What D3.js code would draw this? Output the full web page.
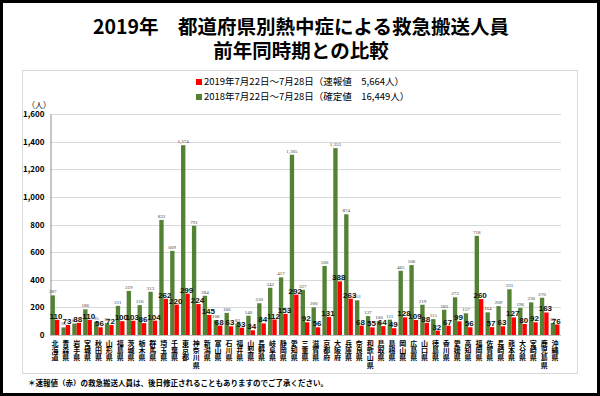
<!DOCTYPE html>
<html>
<head>
<meta charset="utf-8">
<script src="https://cdn.jsdelivr.net/npm/d3@7"></script>
<style>
  body { margin: 0; background: #fff; }
  svg { display: block; font-family: "Noto Sans CJK JP", sans-serif; }
</style>
</head>
<body>
<script>
/* Data
***********************************************************************/
var prefs = ["北海道","青森県","岩手県","宮城県","秋田県","山形県","福島県","茨城県","栃木県","群馬県",
	"埼玉県","千葉県","東京都","神奈川県","新潟県","富山県","石川県","福井県","山梨県","長野県",
	"岐阜県","静岡県","愛知県","三重県","滋賀県","京都府","大阪府","兵庫県","奈良県","和歌山県",
	"鳥取県","島根県","岡山県","広島県","山口県","徳島県","香川県","愛媛県","高知県","福岡県",
	"佐賀県","長崎県","熊本県","大分県","宮崎県","鹿児島県","沖縄県"];

// 2019 (速報値, red)
var v2019 = [110,73,88,110,56,72,100,103,86,104,
	262,220,299,224,145,68,63,53,34,84,
	112,153,292,92,56,131,388,263,68,55,
	64,49,128,109,88,32,67,99,56,260,
	57,63,127,80,92,163,76];

// 2018 (確定値, green)
var v2018 = [287,55,83,186,95,85,211,319,216,313,
	833,609,1374,791,284,108,160,83,140,230,
	342,417,1305,327,200,500,1353,874,251,137,
	100,111,465,506,219,115,183,273,157,718,
	164,209,331,196,236,270,88];

var yTicks = [0,200,400,600,800,1000,1200,1400,1600];

var titleLines = ["2019年　都道府県別熱中症による救急搬送人員", "前年同時期との比較"];
var legendItems = [
	{label: "2019年7月22日～7月28日（速報値　5,664人）", color: "#ff0000"},
	{label: "2018年7月22日～7月28日（確定値　16,449人）", color: "#548235"}
];
var footnote = "＊速報値（赤）の救急搬送人員は、後日修正されることもありますのでご了承ください。";

/* Setup SVG
***********************************************************************/
var svgW = 600;
var svgH = 396;
var green = "#548235";
var red = "#ff0000";

var svg = d3.select("body").append("svg")
	.attr("width", svgW)
	.attr("height", svgH);

// outer black frame
svg.append("rect")
	.attr("x", 1.5).attr("y", 1.5)
	.attr("width", svgW - 3).attr("height", svgH - 3)
	.attr("fill", "none")
	.attr("stroke", "#000")
	.attr("stroke-width", 3);

// title
svg.append("g").selectAll("text")
	.data(titleLines)
	.join("text")
	.attr("x", 301)
	.attr("y", function(d, i) { return 34 + i * 24; })
	.attr("text-anchor", "middle")
	.attr("font-size", "19.5px")
	.attr("font-weight", "bold")
	.text(function(d) { return d; });

// chart panel
svg.append("rect")
	.attr("x", 22.5).attr("y", 70.5)
	.attr("width", 555).attr("height", 303)
	.attr("fill", "#fff")
	.attr("stroke", "#d9d9d9");

/* Scales
***********************************************************************/
var plotL = 50, plotR = 560;
var yScale = d3.scaleLinear().domain([0, 1600]).range([335, 114]);
var xScale = d3.scaleBand().domain(prefs).range([plotL, plotR])
	.paddingInner(0.2).paddingOuter(0.05);
var xSub = d3.scaleBand().domain(["g", "r"]).range([0, xScale.bandwidth()]);

// gridlines
svg.append("g").selectAll("line")
	.data(yTicks.slice(1))
	.join("line")
	.attr("x1", plotL).attr("x2", plotR + 1)
	.attr("y1", function(d) { return Math.round(yScale(d)) + 0.5; })
	.attr("y2", function(d) { return Math.round(yScale(d)) + 0.5; })
	.attr("stroke", "#d9d9d9");

// y axis
var yAxis = d3.axisLeft(yScale).tickValues(yTicks).tickSize(0).tickPadding(6)
	.tickFormat(d3.format(","));
var yG = svg.append("g")
	.attr("transform", "translate(" + (plotL + 0.5) + ",0)")
	.call(yAxis);
yG.select(".domain").attr("stroke", "#8c8c8c");
yG.selectAll("text")
	.attr("font-family", "'Noto Sans CJK JP', sans-serif")
	.attr("font-size", "8px")
	.attr("font-weight", "bold")
	.attr("fill", "#000");

// baseline
svg.append("line")
	.attr("x1", plotL).attr("x2", plotR + 1)
	.attr("y1", 335.5).attr("y2", 335.5)
	.attr("stroke", "#bfbfbf");

// unit label
svg.append("text")
	.attr("x", 39).attr("y", 108)
	.attr("text-anchor", "middle")
	.attr("font-size", "8px")
	.text("（人）");

/* Bars
***********************************************************************/
var rows = prefs.map(function(p, i) { return {pref: p, g: v2018[i], r: v2019[i]}; });

var barG = svg.append("g");
barG.selectAll("rect.g")
	.data(rows)
	.join("rect")
	.attr("class", "g")
	.attr("x", function(d) { return xScale(d.pref) + xSub("g"); })
	.attr("y", function(d) { return yScale(d.g); })
	.attr("width", xSub.bandwidth())
	.attr("height", function(d) { return yScale(0) - yScale(d.g); })
	.attr("fill", green);

barG.selectAll("rect.r")
	.data(rows)
	.join("rect")
	.attr("class", "r")
	.attr("x", function(d) { return xScale(d.pref) + xSub("r"); })
	.attr("y", function(d) { return yScale(d.r); })
	.attr("width", xSub.bandwidth())
	.attr("height", function(d) { return yScale(0) - yScale(d.r); })
	.attr("fill", red);

// green value labels (small)
svg.append("g").selectAll("text")
	.data(rows)
	.join("text")
	.attr("x", function(d) { return xScale(d.pref) + xSub("g") + xSub.bandwidth() / 2; })
	.attr("y", function(d) { return yScale(d.g) - 2; })
	.attr("text-anchor", "middle")
	.attr("font-family", "'Liberation Serif', serif")
	.attr("font-size", "5px")
	.attr("fill", "#404040")
	.text(function(d) { return d3.format(",")(d.g); });

// red value labels (larger)
svg.append("g").selectAll("text")
	.data(rows)
	.join("text")
	.attr("x", function(d) { return xScale(d.pref) + xSub("r") + xSub.bandwidth() / 2 - 1; })
	.attr("y", function(d) { return yScale(d.r) - 1; })
	.attr("text-anchor", "middle")
	.attr("font-family", "'Liberation Sans', sans-serif")
	.attr("font-size", "8px")
	.attr("font-weight", "bold")
	.attr("fill", "#111")
	.text(function(d) { return d.r; });

// category labels, one character per line
var chars = [];
prefs.forEach(function(p) {
	p.split("").forEach(function(c, i) {
		chars.push({pref: p, ch: c, idx: i});
	});
});
svg.append("g").selectAll("text")
	.data(chars)
	.join("text")
	.attr("x", function(d) { return xScale(d.pref) + xScale.bandwidth() / 2; })
	.attr("y", function(d) { return 346 + d.idx * 7.2; })
	.attr("text-anchor", "middle")
	.attr("font-size", "7px")
	.attr("font-weight", "bold")
	.text(function(d) { return d.ch; });

/* Legend
***********************************************************************/
var legG = svg.append("g").selectAll("g")
	.data(legendItems)
	.join("g")
	.attr("transform", function(d, i) { return "translate(196," + (85 + i * 15) + ")"; });
legG.append("rect")
	.attr("x", 0).attr("y", -6)
	.attr("width", 6).attr("height", 6)
	.attr("fill", function(d) { return d.color; });
legG.append("text")
	.attr("x", 8).attr("y", 0)
	.attr("font-size", "9.5px")
	.text(function(d) { return d.label; });

// footnote
svg.append("text")
	.attr("x", 28).attr("y", 386)
	.attr("font-size", "7.5px")
	.attr("font-weight", "bold")
	.text(footnote);
</script>
</body>
</html>
